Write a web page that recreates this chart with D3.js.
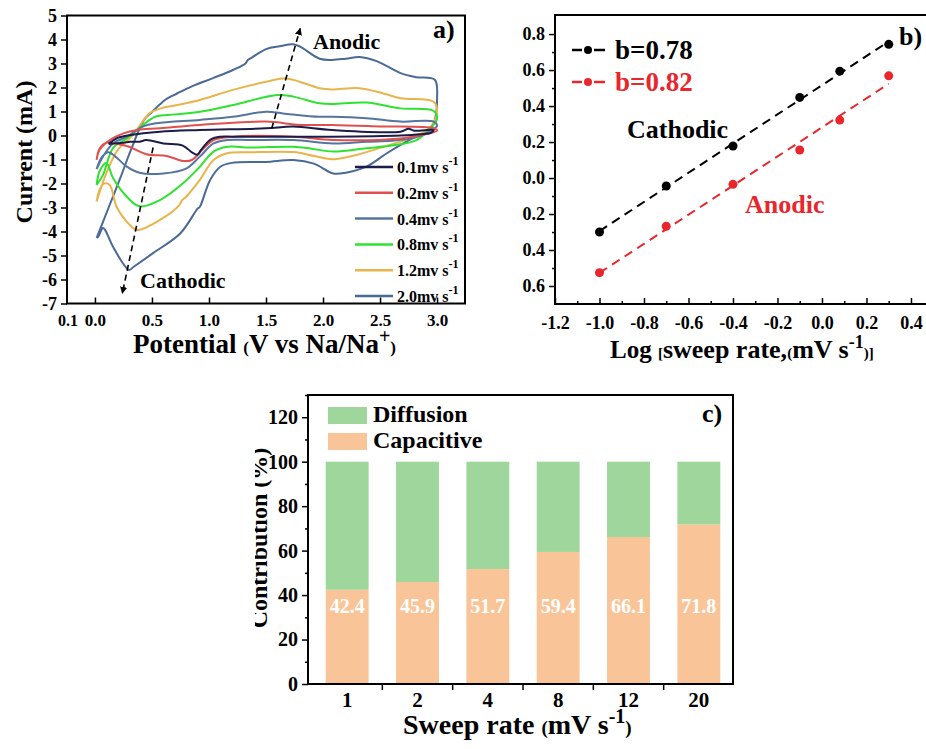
<!DOCTYPE html>
<html>
<head>
<meta charset="utf-8">
<script src="https://cdn.jsdelivr.net/npm/d3@7"></script>
<style>
  body { margin: 0; background: #fff; }
  svg { display: block; }
</style>
</head>
<body>
<svg id="fig" width="926" height="749"></svg>
<script>
// ---- panel a: CV curves, [potential V, current mA] ----
const cv01 = [[0.12,-0.35],[0.2,-0.1],[0.31,0.02],[0.57,0.16],[0.92,0.23],[1.5,0.3],[1.74,0.37],[2.08,0.23],
  [2.68,0.16],[2.75,0.28],[2.8,0.2],[2.97,0.23],[2.95,0.12],[2.85,0.05],[2.68,0.0],[2.08,-0.05],[1.21,-0.05],
  [1.1,-0.05],[1.02,-0.15],[0.93,-0.6],[0.9,-0.8],[0.85,-0.7],[0.77,-0.42],[0.6,-0.33],[0.45,-0.19],
  [0.39,-0.26],[0.31,-0.26],[0.25,-0.3],[0.12,-0.35]];
const cv02 = [[0.015,-1.02],[0.04,-0.6],[0.13,-0.19],[0.25,0.09],[0.37,0.23],[0.57,0.3],[0.92,0.44],[1.5,0.58],
  [1.8,0.44],[2.08,0.44],[2.5,0.38],[2.97,0.3],[3.0,0.2],[2.9,0.05],[2.68,-0.12],[2.09,-0.19],[1.74,-0.05],
  [1.21,-0.05],[1.04,-0.19],[0.95,-0.55],[0.85,-1.02],[0.77,-1.06],[0.63,-0.85],[0.45,-0.78],[0.3,-0.47],
  [0.2,-0.35],[0.1,-0.3],[0.04,-0.55],[0.015,-1.02]];
const cv04 = [[0.015,-1.4],[0.07,-0.88],[0.16,-0.32],[0.28,-0.05],[0.42,0.37],[0.54,0.51],[0.92,0.65],
  [1.21,0.78],[1.5,0.99],[1.65,0.92],[1.97,0.78],[2.08,0.78],[2.38,0.72],[2.68,0.58],[2.97,0.58],[3.0,0.4],
  [2.93,0.15],[2.8,-0.1],[2.6,-0.22],[2.38,-0.26],[2.09,-0.33],[1.74,-0.19],[1.36,-0.19],[1.16,-0.19],
  [1.04,-0.33],[0.92,-0.88],[0.8,-1.38],[0.6,-1.58],[0.39,-1.55],[0.28,-1.3],[0.18,-0.88],[0.12,-0.7],
  [0.06,-0.9],[0.015,-1.4]];
const cv08 = [[0.015,-2.06],[0.07,-1.65],[0.16,-0.52],[0.28,-0.12],[0.37,0.23],[0.48,0.65],[0.54,0.8],
  [0.7,0.88],[0.92,0.99],[1.21,1.27],[1.6,1.69],[1.74,1.62],[1.97,1.34],[2.08,1.31],[2.38,1.37],[2.68,1.13],
  [2.97,1.02],[3.0,0.7],[2.94,0.3],[2.82,-0.19],[2.6,-0.42],[2.38,-0.53],[2.09,-0.67],[1.9,-0.55],
  [1.74,-0.47],[1.36,-0.5],[1.16,-0.47],[1.04,-0.67],[0.92,-1.3],[0.77,-2.0],[0.57,-2.69],[0.39,-2.95],
  [0.28,-2.55],[0.16,-1.78],[0.1,-1.15],[0.04,-1.5],[0.015,-2.06]];
const cv12 = [[0.015,-2.75],[0.1,-1.57],[0.2,-0.6],[0.32,-0.05],[0.44,0.72],[0.48,0.93],[0.57,1.12],
  [0.7,1.25],[0.92,1.48],[1.21,1.9],[1.5,2.24],[1.68,2.38],[1.8,2.23],[1.97,1.97],[2.08,1.92],[2.32,1.97],
  [2.53,1.75],[2.68,1.55],[2.97,1.41],[3.0,1.0],[2.95,0.4],[2.85,0.05],[2.53,-0.47],[2.3,-0.8],[2.09,-0.99],
  [1.92,-0.85],[1.74,-0.69],[1.36,-0.7],[1.16,-0.74],[1.04,-1.02],[0.92,-1.85],[0.8,-2.55],[0.76,-2.72],
  [0.74,-2.9],[0.57,-3.52],[0.37,-3.94],[0.3,-3.7],[0.19,-2.97],[0.13,-2.06],[0.08,-2.0],[0.04,-2.27],
  [0.015,-2.75]];
const cv20 = [[0.015,-4.27],[0.12,-3.0],[0.22,-1.8],[0.32,-0.55],[0.43,0.65],[0.5,0.98],[0.57,1.3],
  [0.62,1.5],[0.72,1.75],[0.85,2.05],[1.04,2.4],[1.21,2.73],[1.32,3.0],[1.34,3.15],[1.36,3.2],[1.5,3.6],
  [1.62,3.72],[1.74,3.8],[1.8,3.7],[1.97,3.2],[2.08,3.15],[2.2,3.2],[2.32,3.27],[2.47,3.1],[2.68,2.6],
  [2.82,2.43],[2.98,2.32],[3.0,1.5],[2.98,0.65],[2.94,0.25],[2.79,-0.1],[2.56,-0.74],[2.38,-1.3],
  [2.2,-1.55],[2.09,-1.58],[1.92,-1.17],[1.74,-1.02],[1.5,-1.1],[1.2,-1.14],[1.1,-1.3],[1.01,-1.85],
  [0.92,-2.97],[0.9,-3.05],[0.75,-4.07],[0.51,-4.9],[0.34,-5.47],[0.3,-5.6],[0.16,-4.65],[0.09,-3.94],
  [0.07,-3.85],[0.03,-4.2],[0.015,-4.27]];

const cvCurves = [cv20, cv12, cv08, cv04, cv02, cv01];
const cvCurveColors = ['#4a6a96', '#e9b44c', '#30e230', '#56749e', '#e0504f', '#1c1c48'];
const cvLabels = ['0.1mv s', '0.2mv s', '0.4mv s', '0.8mv s', '1.2mv s', '2.0mv s'];
const cvColors = ['#1c1c48', '#e0504f', '#56749e', '#30e230', '#e9b44c', '#4a6a96'];
const potTicks = [0, 0.5, 1.0, 1.5, 2.0, 2.5, 3.0];
const curTicks = [-7, -6, -5, -4, -3, -2, -1, 0, 1, 2, 3, 4, 5];
// dashed arrows [from, to] in data units
const cvArrows = [[[1.55, 0.29], [1.80, 4.46]], [[0.51, -0.5], [0.24, -6.58]]];

// ---- panel b: log(peak current) vs log(sweep rate) ----
const logRate = [-1.0, -0.7, -0.4, -0.1, 0.08, 0.3];
const logCathodic = [-0.30, -0.044, 0.178, 0.448, 0.594, 0.743];
const logAnodic = [-0.526, -0.268, -0.035, 0.156, 0.322, 0.568];
const bXTicks = [-1.2, -1.0, -0.8, -0.6, -0.4, -0.2, 0.0, 0.2, 0.4];
const bYTicks = [-0.6, -0.4, -0.2, 0.0, 0.2, 0.4, 0.6, 0.8];

// ---- panel c: contribution bars ----
const sweepRates = ['1', '2', '4', '8', '12', '20'];
const capacitive = [42.4, 45.9, 51.7, 59.4, 66.1, 71.8];
const diffusion = [57.6, 54.1, 48.3, 40.6, 33.9, 28.2];
const cYTicks = [0, 20, 40, 60, 80, 100, 120];

const SERIF = '"Liberation Serif", "Times New Roman", serif';
const svg = d3.select('#fig').attr('font-family', SERIF).attr('font-weight', 'bold');
const defs = svg.append('defs');
defs.append('marker').attr('id', 'arr').attr('viewBox', '0 0 10 10')
  .attr('refX', 9).attr('refY', 5).attr('markerWidth', 4.5).attr('markerHeight', 4.5)
  .attr('orient', 'auto')
  .append('path').attr('d', 'M0,0L10,5L0,10z').attr('fill', '#000');

/** text made of several tspans: [text, size, dy] */
function rich(sel, x, y, parts, fill) {
  const t = sel.append('text').attr('x', x).attr('y', y).attr('fill', fill || '#000');
  parts.forEach(p => t.append('tspan').attr('font-size', p[1]).attr('dy', p[2] || 0).text(p[0]));
  return t;
}

function styleAxis(g, size) {
  g.attr('font-family', SERIF).attr('font-size', size).attr('font-weight', 'bold');
  g.select('.domain').remove();
  g.selectAll('text').attr('fill', '#000');
  g.selectAll('line').attr('stroke', '#000').attr('stroke-width', 1.5);
}

/* ------------------------------------------------------------------ */
/*  Panel a                                                            */
/* ------------------------------------------------------------------ */
{
  const x = d3.scaleLinear().domain([-0.245, 3.245]).range([67, 465]);
  const y = d3.scaleLinear().domain([-7, 5]).range([303.5, 15.5]);
  const g = svg.append('g');

  const line = d3.line().x(d => x(d[0])).y(d => y(d[1])).curve(d3.curveCatmullRom.alpha(0.5));
  g.selectAll('path.cv').data(cvCurves).enter().append('path')
    .attr('class', 'cv')
    .attr('d', line)
    .attr('fill', 'none')
    .attr('stroke', (d, i) => cvCurveColors[i])
    .attr('stroke-width', 2);

  const xa = g.append('g').attr('transform', 'translate(0,303.5)')
    .call(d3.axisBottom(x).tickValues(potTicks).tickFormat(d => d.toFixed(1)).tickSizeInner(-6).tickSizeOuter(0).tickPadding(10));
  styleAxis(xa, 17);
  g.append('text').attr('x', 68).attr('y', 326).attr('font-size', 16).attr('text-anchor', 'middle').text('0.1');

  const ya = g.append('g').attr('transform', 'translate(67,0)')
    .call(d3.axisLeft(y).tickValues(curTicks).tickFormat(d => String(d)).tickSizeInner(6).tickSizeOuter(0).tickPadding(4));
  styleAxis(ya, 18);

  g.append('rect').attr('x', 67).attr('y', 15.5).attr('width', 398).attr('height', 288)
    .attr('fill', 'none').attr('stroke', '#000').attr('stroke-width', 2);

  g.selectAll('line.arrow').data(cvArrows).enter().append('line')
    .attr('x1', d => x(d[0][0])).attr('y1', d => y(d[0][1]))
    .attr('x2', d => x(d[1][0])).attr('y2', d => y(d[1][1]))
    .attr('stroke', '#000').attr('stroke-width', 1.6).attr('stroke-dasharray', '6,4')
    .attr('marker-end', 'url(#arr)');

  g.append('text').attr('x', 313).attr('y', 49).attr('font-size', 22).text('Anodic');
  g.append('text').attr('x', 140).attr('y', 288).attr('font-size', 22).text('Cathodic');
  g.append('text').attr('x', 433).attr('y', 38).attr('font-size', 26).text('a)');

  // legend
  const leg = g.selectAll('g.leg').data(cvLabels).enter().append('g')
    .attr('transform', (d, i) => `translate(355,${167 + i * 25.8})`);
  leg.append('line').attr('x1', 0).attr('x2', 38).attr('stroke', (d, i) => cvColors[i]).attr('stroke-width', 2.5);
  leg.each(function (d) {
    rich(d3.select(this), 42, 6, [[d, 16], ['-1', 12, -8]]);
  });

  g.append('text').attr('transform', 'translate(32,152) rotate(-90)').attr('text-anchor', 'middle')
    .attr('font-size', 24).text('Current (mA)');
  rich(g, 133, 353, [['Potential ', 27], ['(', 17], ['V vs Na/Na', 27], ['+', 20, -10], [')', 17, 10]]);
}

/* ------------------------------------------------------------------ */
/*  Panel b                                                            */
/* ------------------------------------------------------------------ */
{
  const x = d3.scaleLinear().domain([-1.2, 0.472]).range([555, 927]);
  const y = d3.scaleLinear().domain([-0.7, 0.906]).range([304, 15]);
  const g = svg.append('g');

  const xa = g.append('g').attr('transform', 'translate(0,304)')
    .call(d3.axisBottom(x).tickValues(bXTicks).tickFormat(d => d.toFixed(1)).tickSizeInner(-6).tickSizeOuter(0).tickPadding(12));
  styleAxis(xa, 18);
  const xm = g.append('g').attr('transform', 'translate(0,304)')
    .call(d3.axisBottom(x).tickValues(bXTicks.map(v => v + 0.1)).tickFormat('').tickSizeInner(-3).tickSizeOuter(0));
  styleAxis(xm, 10);

  const ya = g.append('g').attr('transform', 'translate(555,0)')
    .call(d3.axisLeft(y).tickValues(bYTicks).tickFormat(d => Math.abs(d).toFixed(1)).tickSizeInner(6).tickSizeOuter(0).tickPadding(4));
  styleAxis(ya, 18);
  const ym = g.append('g').attr('transform', 'translate(555,0)')
    .call(d3.axisLeft(y).tickValues(bYTicks.map(v => v + 0.1).filter(v => v < 0.9)).tickFormat('').tickSizeInner(3).tickSizeOuter(0));
  styleAxis(ym, 10);

  g.append('rect').attr('x', 555).attr('y', 15).attr('width', 380).attr('height', 289)
    .attr('fill', 'none').attr('stroke', '#000').attr('stroke-width', 2);

  function fit(xs, ys) {
    const mx = d3.mean(xs), my = d3.mean(ys);
    const k = d3.sum(xs, (v, i) => (v - mx) * (ys[i] - my)) / d3.sum(xs, v => (v - mx) ** 2);
    return v => my + k * (v - mx);
  }
  const series = [
    { ys: logCathodic, color: '#000' },
    { ys: logAnodic, color: '#e8262b' }
  ];
  series.forEach(s => {
    const f = fit(logRate, s.ys);
    const x0 = d3.min(logRate), x1 = d3.max(logRate);
    g.append('line').attr('x1', x(x0)).attr('y1', y(f(x0))).attr('x2', x(x1)).attr('y2', y(f(x1)))
      .attr('stroke', s.color).attr('stroke-width', 2).attr('stroke-dasharray', '9,6');
    g.selectAll(null).data(logRate).enter().append('circle')
      .attr('cx', d => x(d)).attr('cy', (d, i) => y(s.ys[i])).attr('r', 4.5).attr('fill', s.color);
  });

  // legend
  const labels = ['b=0.78', 'b=0.82'];
  labels.forEach((t, i) => {
    const yy = 50 + i * 32;
    const c = series[i].color;
    g.append('line').attr('x1', 572).attr('x2', 582).attr('y1', yy).attr('y2', yy).attr('stroke', c).attr('stroke-width', 2.5);
    g.append('line').attr('x1', 594).attr('x2', 605).attr('y1', yy).attr('y2', yy).attr('stroke', c).attr('stroke-width', 2.5);
    g.append('circle').attr('cx', 588).attr('cy', yy).attr('r', 4).attr('fill', c);
    g.append('text').attr('x', 615).attr('y', yy + 9).attr('font-size', 27).attr('fill', c).text(t);
  });

  g.append('text').attr('x', 627).attr('y', 138).attr('font-size', 26).text('Cathodic');
  g.append('text').attr('x', 745).attr('y', 213).attr('font-size', 26).attr('fill', '#e8262b').text('Anodic');
  g.append('text').attr('x', 899).attr('y', 45).attr('font-size', 26).text('b)');

  rich(g, 610, 358, [['Log ', 25], ['[', 15], ['sweep rate,', 26], ['(', 15], ['mV s', 26], ['-1', 18, -10], [')]', 15, 10]]);
}

/* ------------------------------------------------------------------ */
/*  Panel c                                                            */
/* ------------------------------------------------------------------ */
{
  const x = d3.scaleBand().domain(sweepRates).range([312, 734]).paddingInner(0.39).paddingOuter(0.195);
  const y = d3.scaleLinear().domain([0, 130]).range([684, 395]);
  const g = svg.append('g');

  g.selectAll('rect.cap').data(capacitive).enter().append('rect')
    .attr('x', (d, i) => x(sweepRates[i])).attr('width', x.bandwidth())
    .attr('y', d => y(d)).attr('height', d => y(0) - y(d)).attr('fill', '#f9c598');
  g.selectAll('rect.dif').data(diffusion).enter().append('rect')
    .attr('x', (d, i) => x(sweepRates[i])).attr('width', x.bandwidth())
    .attr('y', (d, i) => y(capacitive[i] + d)).attr('height', (d, i) => y(capacitive[i]) - y(capacitive[i] + d))
    .attr('fill', '#9fd69c');
  g.selectAll('text.val').data(capacitive).enter().append('text')
    .attr('x', (d, i) => x(sweepRates[i]) + x.bandwidth() / 2).attr('y', y(32))
    .attr('text-anchor', 'middle').attr('font-size', 20).attr('fill', '#fff').text(d => d.toFixed(1));

  const xa = g.append('g').attr('transform', 'translate(0,684)')
    .call(d3.axisBottom(x).tickSize(0).tickPadding(8));
  styleAxis(xa, 21);
  // short ticks in the gaps between the categories
  const gapMid = r => x(r) - (x.step() - x.bandwidth()) / 2;
  g.selectAll('line.mid').data(sweepRates.slice(1)).enter().append('line')
    .attr('x1', gapMid).attr('x2', gapMid)
    .attr('y1', 684).attr('y2', 690).attr('stroke', '#000').attr('stroke-width', 1.5);

  const ya = g.append('g').attr('transform', 'translate(308,0)')
    .call(d3.axisLeft(y).tickValues(cYTicks).tickSizeInner(6).tickSizeOuter(0).tickPadding(4));
  styleAxis(ya, 20);
  const ym = g.append('g').attr('transform', 'translate(308,0)')
    .call(d3.axisLeft(y).tickValues(cYTicks.map(v => v + 10)).tickFormat('').tickSizeInner(3).tickSizeOuter(0));
  styleAxis(ym, 10);

  g.append('rect').attr('x', 308).attr('y', 395).attr('width', 425).attr('height', 289)
    .attr('fill', 'none').attr('stroke', '#000').attr('stroke-width', 2);

  // legend
  const legItems = [['Diffusion', '#9fd69c'], ['Capacitive', '#f9c598']];
  legItems.forEach((it, i) => {
    const yy = 407 + i * 26;
    g.append('rect').attr('x', 328).attr('y', yy).attr('width', 39).attr('height', 17).attr('fill', it[1]);
    g.append('text').attr('x', 373).attr('y', yy + 15).attr('font-size', 24).text(it[0]);
  });
  g.append('text').attr('x', 702).attr('y', 422).attr('font-size', 26).text('c)');

  // y title is cut off on its left side in the original
  defs.append('clipPath').attr('id', 'ylabClip')
    .append('rect').attr('x', 255).attr('y', 380).attr('width', 60).attr('height', 300);
  g.append('g').attr('clip-path', 'url(#ylabClip)')
    .append('text').attr('transform', 'translate(267,538) rotate(-90)').attr('text-anchor', 'middle')
    .attr('font-size', 24).text('Contribution (%)');

  rich(g, 403, 734, [['Sweep rate ', 28], ['(', 19], ['mV s', 28], ['-1', 20, -11], [')', 19, 11]]);
}
</script>
</body>
</html>
